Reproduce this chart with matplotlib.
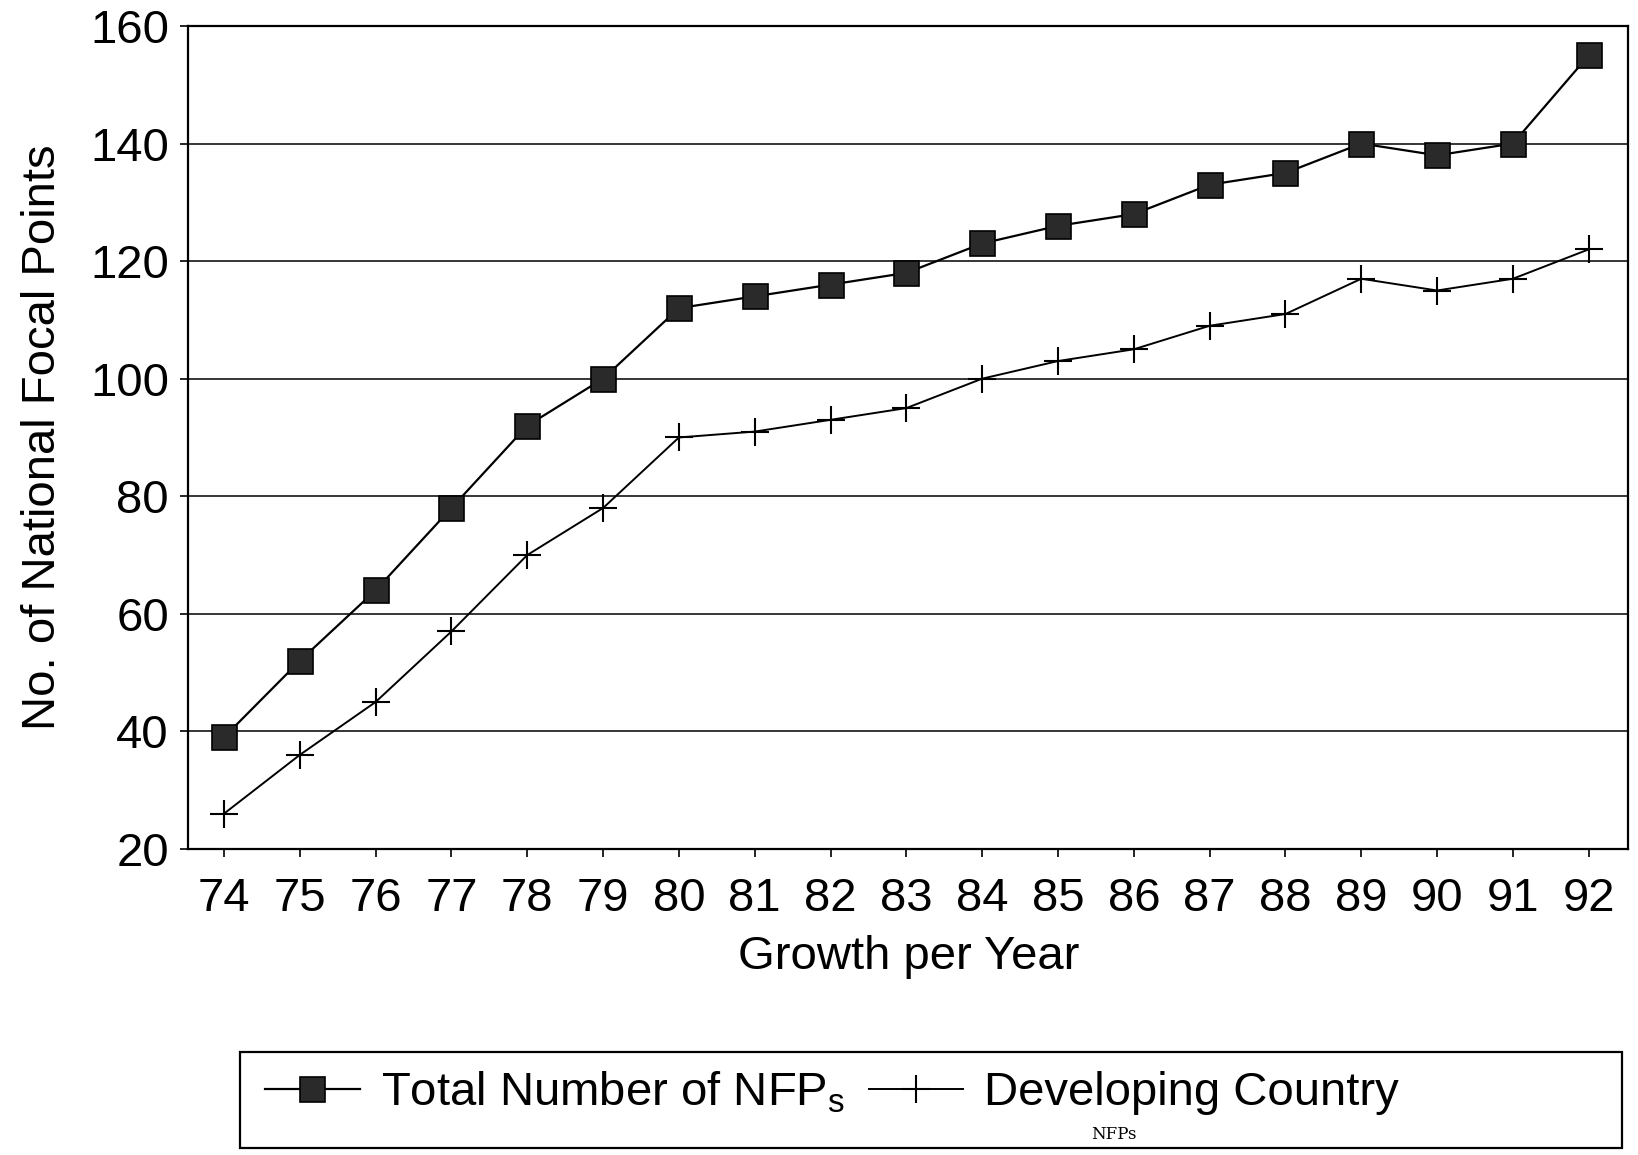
# growth of national focal points per year
import matplotlib.pyplot as plt
from matplotlib.patches import Rectangle
import numpy as np

years = ['74', '75', '76', '77', '78', '79', '80', '81', '82', '83',
         '84', '85', '86', '87', '88', '89', '90', '91', '92']
total_nfp = [39, 52, 64, 78, 92, 100, 112, 114, 116, 118,
             123, 126, 128, 133, 135, 140, 138, 140, 155]
developing_nfp = [26, 36, 45, 57, 70, 78, 90, 91, 93, 95,
                  100, 103, 105, 109, 111, 117, 115, 117, 122]
y_ticks = [20, 40, 60, 80, 100, 120, 140, 160]

plt.rcParams['font.family'] = ['Liberation Sans', 'DejaVu Sans']

fig = plt.figure(figsize=(16.38, 11.55), dpi=100)
ax = fig.add_axes([0.115, 0.265, 0.879, 0.7125])

x = np.arange(len(years))
for yv in y_ticks[1:-1]:
    ax.axhline(yv, color='black', lw=1.1, zorder=1)

l1, = ax.plot(x, total_nfp, color='black', lw=1.6, marker='s', markersize=18,
              markerfacecolor='#2a2a2a', markeredgecolor='black', markeredgewidth=1.2, zorder=3)
l2, = ax.plot(x, developing_nfp, color='black', lw=1.4, marker='+', markersize=20,
              markeredgewidth=1.5, zorder=3)

ax.set_xlim(-0.47, 18.52)
ax.set_ylim(20, 160)
ax.set_xticks(x)
ax.set_xticklabels(years)
ax.set_yticks(y_ticks)
ax.tick_params(labelsize=34, length=6, width=1.2, direction='out')
ax.tick_params(axis='x', pad=14)
ax.tick_params(axis='y', pad=8)
for s in ax.spines.values():
    s.set_linewidth(1.6)

ax.set_xlabel('Growth per Year', fontsize=34, labelpad=10)
ax.set_ylabel('No. of National Focal Points', fontsize=34, labelpad=18)

fig.patches.append(Rectangle((0.1465, 0.006), 0.8435, 0.083, transform=fig.transFigure,
                             fill=False, edgecolor='black', lw=1.6))
leg = fig.legend([l1, l2], ['Total Number of NFP$_\\mathregular{s}$', 'Developing Country'],
                 loc='center', bbox_to_anchor=(0.508, 0.054), ncol=2, frameon=False,
                 fontsize=34, handlelength=2.0, handletextpad=0.45, columnspacing=0.5)
fig.text(0.680, 0.010, 'NFPs', fontsize=12, family='DejaVu Serif', ha='center', va='bottom')

plt.savefig('out.png', dpi=100)
